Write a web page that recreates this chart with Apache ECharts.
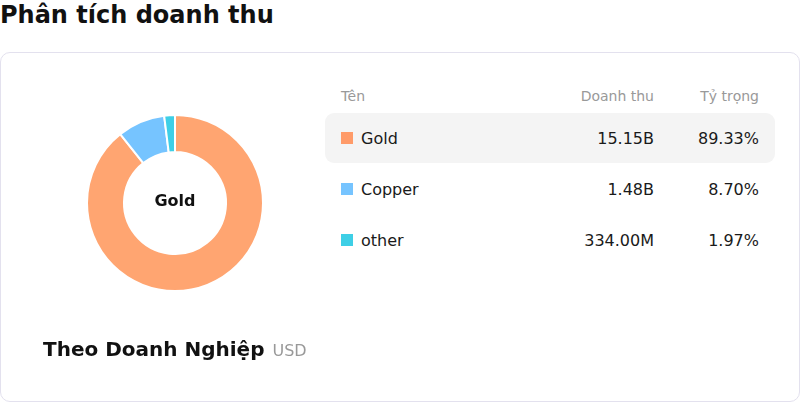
<!DOCTYPE html>
<html>
<head>
<meta charset="utf-8">
<script src="https://cdn.jsdelivr.net/npm/echarts@6/dist/echarts.min.js"></script>
<style>
  html, body { margin: 0; padding: 0; background: #fff; font-family: "DejaVu Sans", sans-serif; }
  #page { position: relative; width: 800px; height: 402px; overflow: hidden; }
  #title { position: absolute; left: 0; top: 0; font-size: 24px; font-weight: bold; color: #111; line-height: 30px; }
  #card { position: absolute; left: 0; top: 52px; width: 798px; height: 348px; border: 1px solid #e3e1ee; border-radius: 10px; }
  #chart { position: absolute; left: 0; top: 0; width: 800px; height: 402px; }
  #foot { position: absolute; left: 43px; top: 336px; font-size: 20px; font-weight: bold; color: #111; line-height: 26px; white-space: nowrap; }
  #foot span { font-size: 16px; font-weight: normal; color: #999; margin-left: 8px; }
  .cell { position: absolute; white-space: nowrap; line-height: 20px; }
  .hdr { font-size: 14px; color: #999; }
  .val { font-size: 16px; color: #1a1a1a; }
  .right { text-align: right; }
  .rowbg { position: absolute; left: 325px; width: 450px; height: 50px; border-radius: 9px; background: #f4f4f4; }
  .sw { position: absolute; width: 12px; height: 12px; }
</style>
</head>
<body>
<div id="page">
  <div id="title"></div>
  <div id="card"></div>
  <div id="table"></div>
  <div id="chart"></div>
  <div id="foot"></div>
</div>
<script>
// data
const pageTitle = 'Phân tích doanh thu';
const footTitle = 'Theo Doanh Nghiệp';
const footUnit = 'USD';
const headers = ['Tên', 'Doanh thu', 'Tỷ trọng'];
const categories = ['Gold', 'Copper', 'other'];
const revenue = [15.15e9, 1.48e9, 334.0e6];
const revenueLabels = ['15.15B', '1.48B', '334.00M'];
const shareLabels = ['89.33%', '8.70%', '1.97%'];
const palette = ['#ffa571', '#76c4ff', '#3ecfe6'];
const swatchColors = ['#ff9b69', '#76c4ff', '#3ecfe6'];

document.getElementById('title').textContent = pageTitle;
document.getElementById('foot').innerHTML = footTitle + '<span>' + footUnit + '</span>';

// table on the right
const table = document.getElementById('table');
let html = '';
html += '<div class="cell hdr" style="left:341px;top:86px">' + headers[0] + '</div>';
html += '<div class="cell hdr right" style="left:500px;width:154px;top:86px">' + headers[1] + '</div>';
html += '<div class="cell hdr right" style="left:660px;width:99px;top:86px">' + headers[2] + '</div>';
categories.forEach((name, i) => {
  const cy = 138 + i * 51;
  if (i === 0) html += '<div class="rowbg" style="top:' + (cy - 25) + 'px"></div>';
  html += '<div class="sw" style="left:341px;top:' + (cy - 6) + 'px;background:' + swatchColors[i] + '"></div>';
  html += '<div class="cell val" style="left:361px;top:' + (cy - 9) + 'px">' + name + '</div>';
  html += '<div class="cell val right" style="left:500px;width:154px;top:' + (cy - 9) + 'px">' + revenueLabels[i] + '</div>';
  html += '<div class="cell val right" style="left:660px;width:99px;top:' + (cy - 9) + 'px">' + shareLabels[i] + '</div>';
});
table.innerHTML = html;

// donut
const chart = echarts.init(document.getElementById('chart'), null, { renderer: 'canvas' });
chart.setOption({
  animation: false,
  color: palette,
  graphic: [{
    type: 'text',
    x: 175,
    y: 202,
    style: {
      text: categories[0],
      textAlign: 'center',
      textVerticalAlign: 'middle',
      font: 'bold 16px "DejaVu Sans"',
      fill: '#111'
    },
    z: 10
  }],
  series: [{
    type: 'pie',
    center: [175, 203],
    radius: [51, 88],
    startAngle: 90,
    clockwise: true,
    label: { show: false },
    labelLine: { show: false },
    itemStyle: { borderColor: '#fff', borderWidth: 2 },
    emphasis: { disabled: true },
    data: categories.map((name, i) => ({ name, value: revenue[i] }))
  }]
});
</script>
</body>
</html>
